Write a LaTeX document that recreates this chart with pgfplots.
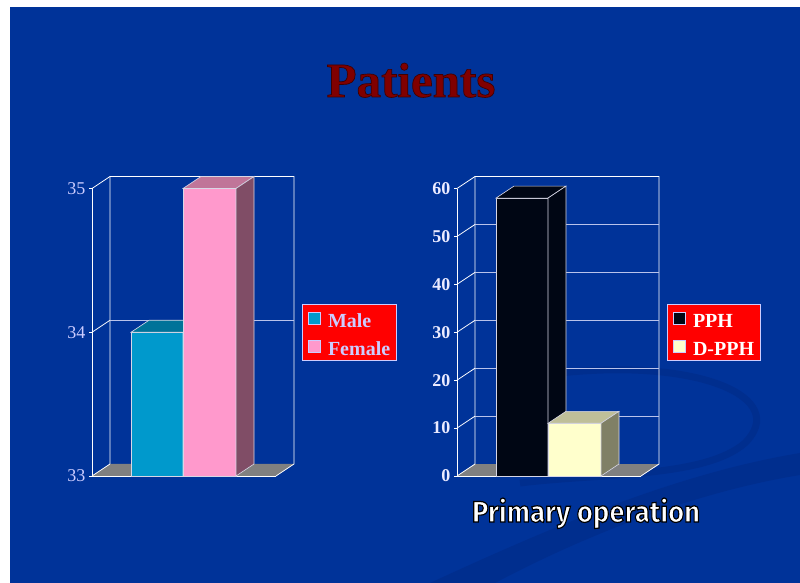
\documentclass[border=0pt]{standalone}
\usepackage{fontspec}
\setmainfont{Liberation Serif}
\newfontfamily\comic{Fira Sans}
\usepackage{pgfplots}
\pgfplotsset{compat=1.18}
\definecolor{bg}{RGB}{0,51,153}
\definecolor{bgdark}{RGB}{0,40,130}
\definecolor{lav}{RGB}{204,204,255}
\definecolor{lab}{RGB}{235,235,255}
\definecolor{gridc}{RGB}{185,195,235}
\definecolor{malef}{RGB}{0,153,204}
\definecolor{malet}{RGB}{0,115,153}
\definecolor{femf}{RGB}{255,153,204}
\definecolor{femt}{RGB}{192,117,153}
\definecolor{fems}{RGB}{128,77,102}
\definecolor{pphf}{RGB}{0,6,20}
\definecolor{dpf}{RGB}{255,255,204}
\definecolor{dpt}{RGB}{191,191,153}
\definecolor{dps}{RGB}{128,128,102}
\definecolor{floorc}{RGB}{128,128,128}
\definecolor{edge}{RGB}{215,215,230}
\definecolor{titlec}{RGB}{128,0,0}
\pgfplotsset{
  chart3d/.style={
    scale only axis, width=184pt, height=287.5pt,
    xmin=0, xmax=184, clip=false,
    axis lines=left,
    axis line style={-, white, line width=0.8pt},
    xtick=\empty,
    tick align=outside, major tick length=3pt,
    tick style={white, line width=0.8pt},
    /pgf/number format/assume math mode=true,
    legend cell align=left,
    legend image code/.code={\draw[##1, draw=lav, line width=0.6pt] (0pt,-6pt) rectangle (12pt,6pt);},
  },
  leg/.style={fill=red, draw=lav, line width=0.8pt,
    font=\fontsize{20}{20}\selectfont\bfseries,
    inner xsep=6pt, inner ysep=3pt, column sep=7pt, row sep=6pt,
    nodes={inner sep=0pt, text height=20pt, text depth=2pt}},
  face/.style={draw=edge, line width=0.6pt, forget plot},
}
\begin{document}
\begin{tikzpicture}[x=1pt,y=1pt]
\fill[white] (0,0) rectangle (800,583);
\fill[bg] (10,0) rectangle (800,576);
% background swoosh
\fill[bgdark, opacity=0.45] (430,0) .. controls (560,60) and (680,110) .. (800,130) -- (800,108) .. controls (690,90) and (580,45) .. (495,0) -- cycle;
\draw[bgdark, opacity=0.45, line width=7pt] (560,210) .. controls (700,225) and (790,185) .. (745,140) .. controls (705,105) and (600,110) .. (520,100);
% title
\node[anchor=base, text=titlec] at (411,486) {\fontsize{49}{49}\selectfont\bfseries\special{pdf:literal direct 2 Tr 0.7 w 0.25 0 0 RG}Patients\special{pdf:literal direct 0 Tr}};

% left chart
\begin{axis}[chart3d, at={(92pt,107pt)},
  ymin=33, ymax=35, ytick={33,34,35},
  yticklabel style={text=lav, font=\fontsize{18}{18}\selectfont},
  legend style={leg, at={(axis cs:210,34.199)}, anchor=north west, text=lav},
]
\fill[floorc] (axis cs:0,33) -- (axis cs:184,33) -- (axis cs:202,33.0835) -- (axis cs:18,33.0835) -- cycle;
\draw[white, line width=0.8pt] (axis cs:18,33.0835) -- (axis cs:18,35.0835) -- (axis cs:202,35.0835) -- (axis cs:202,33.0835) -- (axis cs:184,33);
\draw[gridc, line width=0.8pt] (axis cs:18,34.0835) -- (axis cs:202,34.0835);
\draw[white, line width=0.8pt] (axis cs:0,33) -- (axis cs:18,33.0835) (axis cs:0,34) -- (axis cs:18,34.0835) (axis cs:0,35) -- (axis cs:18,35.0835);
% Male
\addplot[fill=malef, draw=edge, line width=0.6pt] coordinates {(39,33) (91,33) (91,34) (39,34)} -- cycle;
\addlegendentry{Male}
\addplot[face, fill=malet] coordinates {(39,34) (91,34) (109,34.0835) (57,34.0835)} -- cycle;
\addplot[face, fill=malet] coordinates {(91,33) (109,33.0835) (109,34.0835) (91,34)} -- cycle;
% Female
\addplot[fill=femf, draw=edge, line width=0.6pt] coordinates {(91,33) (144,33) (144,35) (91,35)} -- cycle;
\addlegendentry{Female}
\addplot[face, fill=femt] coordinates {(91,35) (144,35) (162,35.0835) (109,35.0835)} -- cycle;
\addplot[face, fill=fems] coordinates {(144,33) (162,33.0835) (162,35.0835) (144,35)} -- cycle;
\end{axis}

% right chart
\begin{axis}[chart3d, at={(457pt,107pt)},
  ymin=0, ymax=60, ytick={0,10,20,30,40,50,60},
  yticklabel style={text=lab, font=\fontsize{18}{18}\selectfont\bfseries},
  legend style={leg, at={(axis cs:210,35.83)}, anchor=north west, text=white},
]
\fill[floorc] (axis cs:0,0) -- (axis cs:184,0) -- (axis cs:202,2.5) -- (axis cs:18,2.5) -- cycle;
\draw[white, line width=0.8pt] (axis cs:18,2.5) -- (axis cs:18,62.5) -- (axis cs:202,62.5) -- (axis cs:202,2.5) -- (axis cs:184,0);
\draw[gridc, line width=0.8pt] (axis cs:18,12.5) -- (axis cs:202,12.5) (axis cs:18,22.5) -- (axis cs:202,22.5) (axis cs:18,32.5) -- (axis cs:202,32.5) (axis cs:18,42.5) -- (axis cs:202,42.5) (axis cs:18,52.5) -- (axis cs:202,52.5);
\draw[white, line width=0.8pt] (axis cs:0,0) -- (axis cs:18,2.5) (axis cs:0,10) -- (axis cs:18,12.5) (axis cs:0,20) -- (axis cs:18,22.5) (axis cs:0,30) -- (axis cs:18,32.5) (axis cs:0,40) -- (axis cs:18,42.5) (axis cs:0,50) -- (axis cs:18,52.5) (axis cs:0,60) -- (axis cs:18,62.5);
% PPH
\addplot[fill=pphf, draw=edge, line width=0.6pt] coordinates {(39,0) (91,0) (91,58) (39,58)} -- cycle;
\addlegendentry{PPH}
\addplot[face, fill=pphf] coordinates {(39,58) (91,58) (109,60.5) (57,60.5)} -- cycle;
\addplot[face, fill=pphf] coordinates {(91,0) (109,2.5) (109,60.5) (91,58)} -- cycle;
% D-PPH
\addplot[fill=dpf, draw=edge, line width=0.6pt] coordinates {(91,0) (144,0) (144,11) (91,11)} -- cycle;
\addlegendentry{D-PPH}
\addplot[face, fill=dpt] coordinates {(91,11) (144,11) (162,13.5) (109,13.5)} -- cycle;
\addplot[face, fill=dps] coordinates {(144,0) (162,2.5) (162,13.5) (144,11)} -- cycle;
\end{axis}

% x label (white text with a black outline)
\node[anchor=base, text=white] at (586,61) {\resizebox{228pt}{24pt}{\comic\bfseries\special{pdf:literal direct 2 Tr 0.4 w 0 G}Primary operation\special{pdf:literal direct 0 Tr}}};
\end{tikzpicture}
\end{document}
